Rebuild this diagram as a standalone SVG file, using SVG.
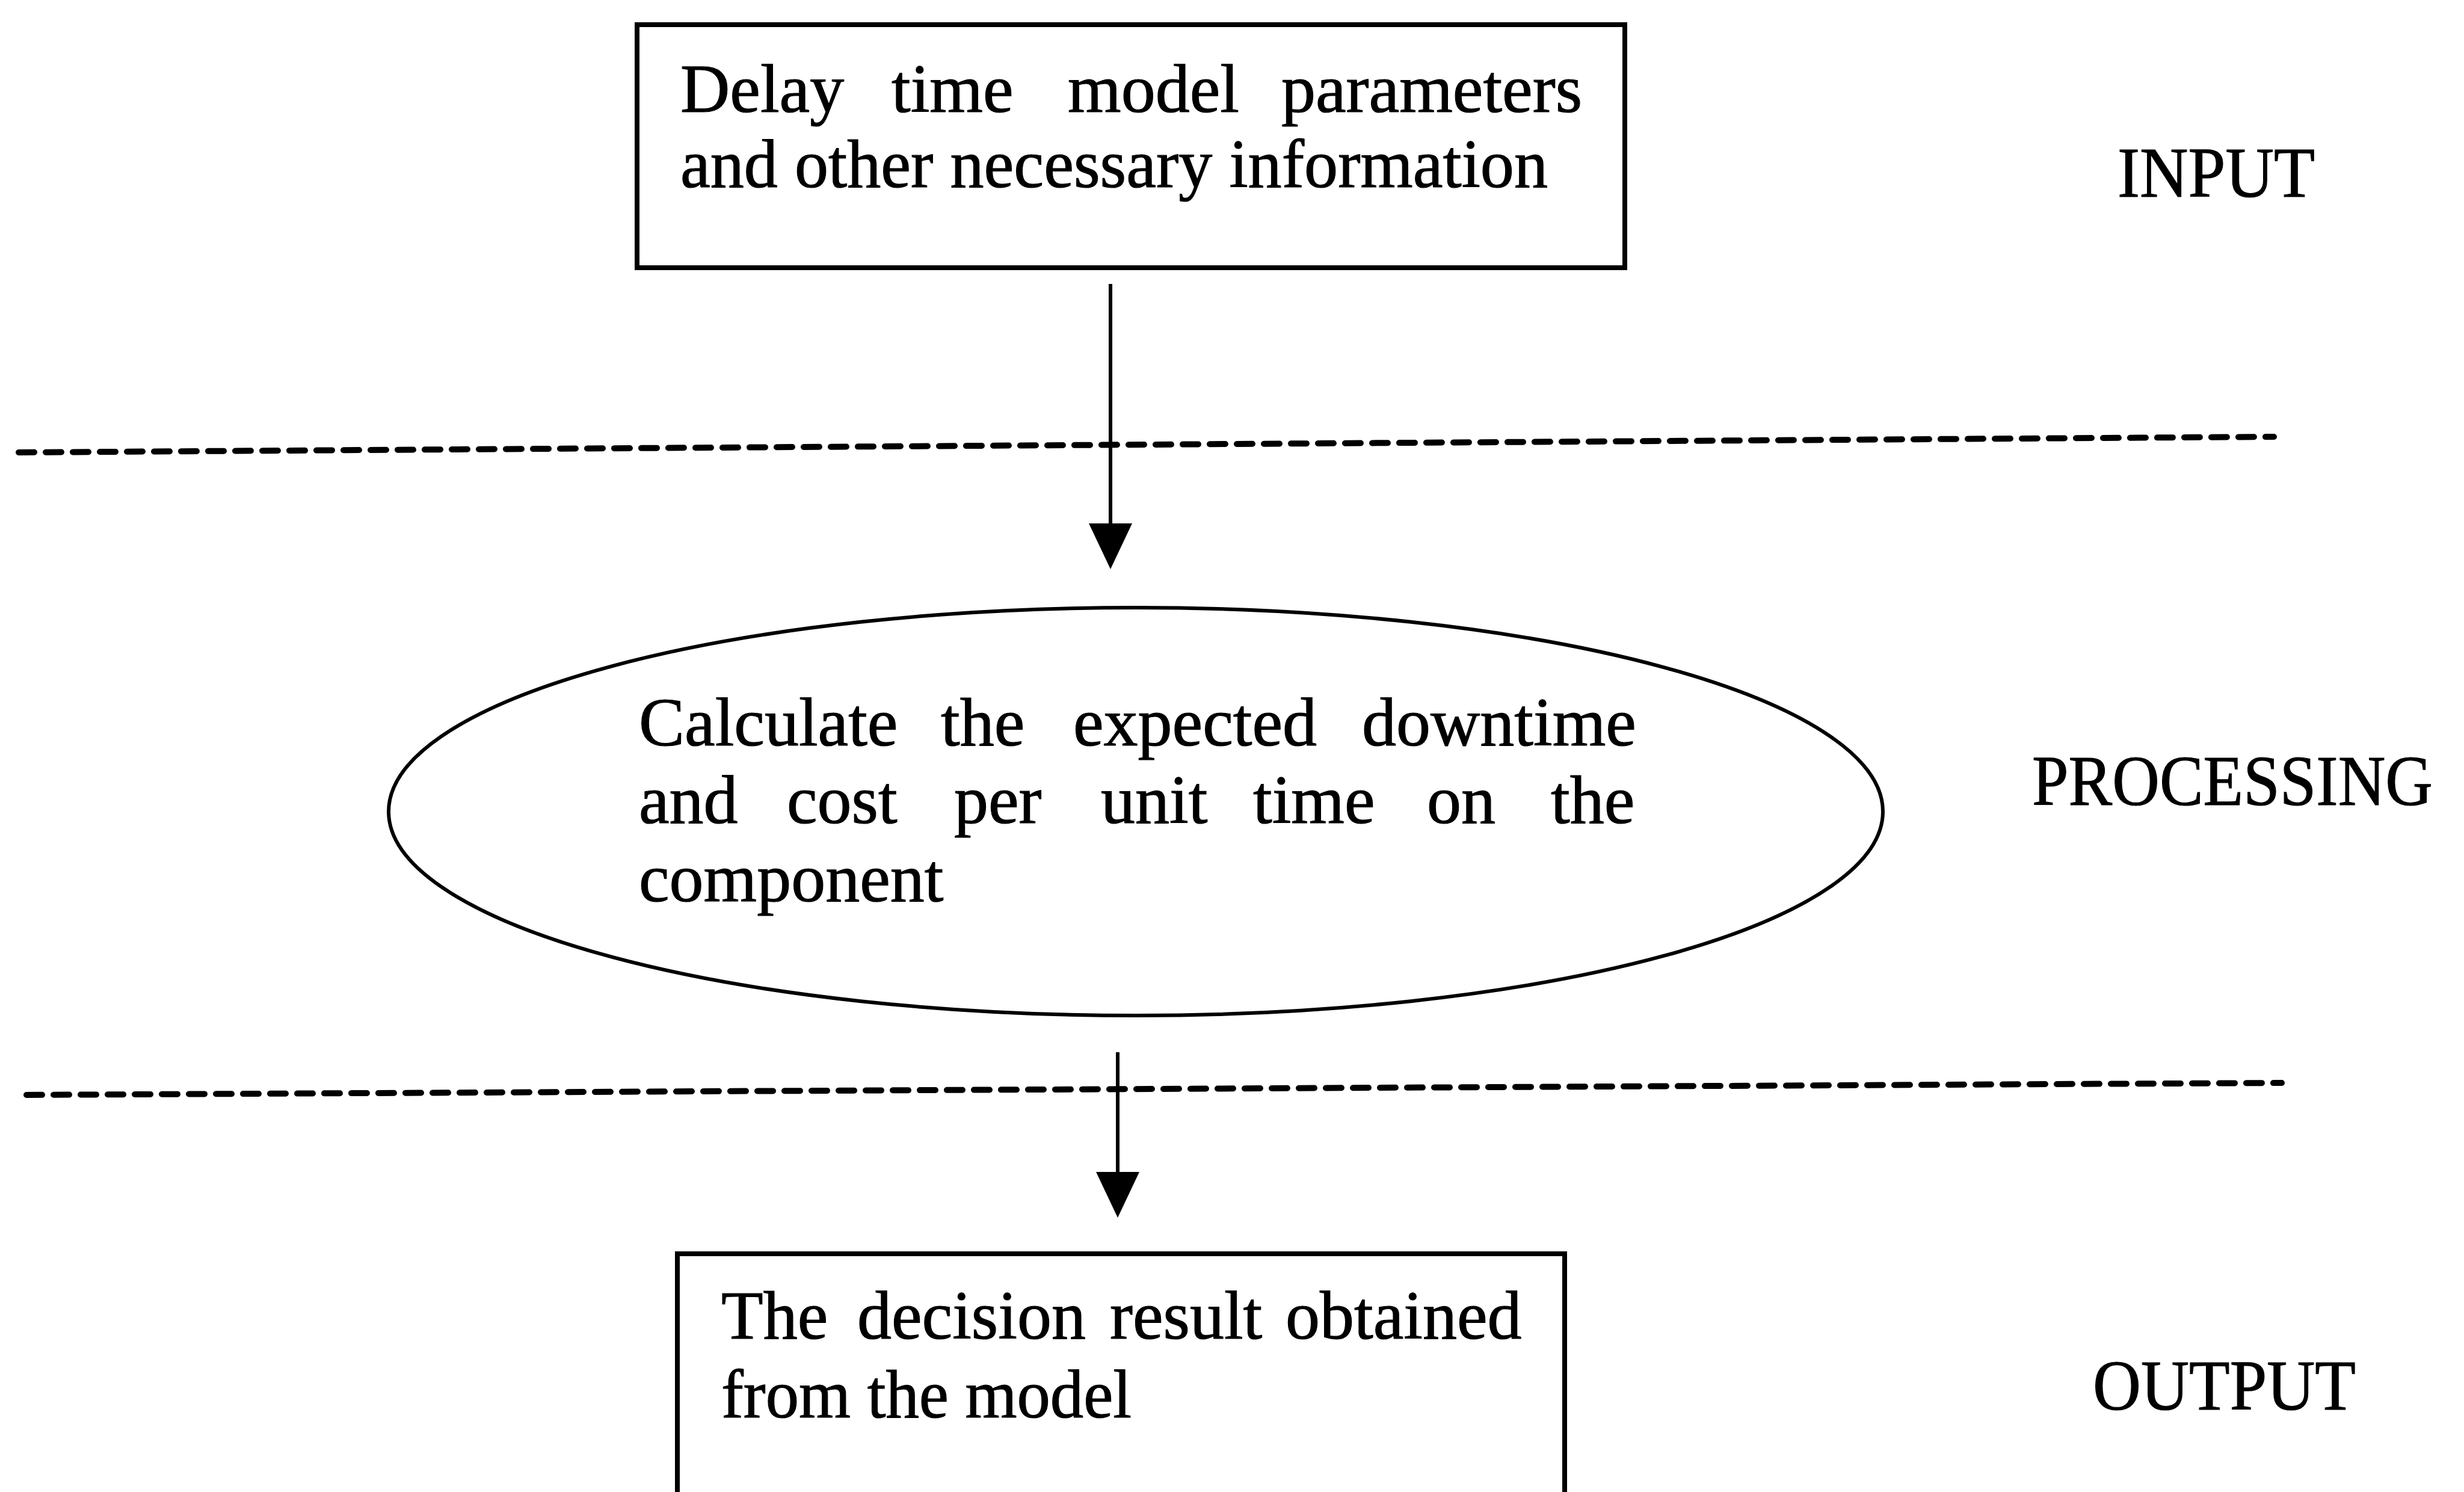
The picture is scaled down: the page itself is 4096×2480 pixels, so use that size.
<svg xmlns="http://www.w3.org/2000/svg" width="4096" height="2480" viewBox="0 0 4096 2480">
<defs>
<style>
.t{font-family:"Liberation Serif","Times New Roman",serif;font-size:114px;fill:#000;stroke:#000;stroke-width:1.2}
.lab{font-family:"Liberation Serif","Times New Roman",serif;font-size:118px;fill:#000;stroke:#000;stroke-width:1.2}
.box{fill:#fff;stroke:#000;stroke-width:8}
.ell{fill:#fff;stroke:#000;stroke-width:6}
.dash{stroke:#000;stroke-width:10;stroke-dasharray:26 19;stroke-linecap:round;fill:none}
.arr{stroke:#000;stroke-width:6;fill:none;marker-end:url(#ah)}
</style>
<marker id="ah" markerUnits="userSpaceOnUse" markerWidth="80" markerHeight="80" refX="44" refY="36" orient="auto" viewBox="0 0 80 80">
<path d="M0,0 L76,36 L0,72 z" fill="#000"/>
</marker>
</defs>
<rect width="4096" height="2480" fill="#fff"/>
<g id="separators">
<line class="dash" x1="31" y1="752" x2="3780" y2="726"/>
<line class="dash" x1="44" y1="1820" x2="3793" y2="1800"/>
</g>
<g id="connectors">
<line class="arr" x1="1846" y1="472" x2="1846" y2="914"/>
<line class="arr" x1="1858" y1="1749" x2="1858" y2="1992"/>
</g>
<g id="node-input">
<rect class="box" x="1059" y="41" width="1642" height="404"/>
<text class="t" y="186"><tspan x="1131">Delay</tspan><tspan x="1482">time</tspan><tspan x="1775">model</tspan><tspan x="2130">parameters</tspan></text>
<text class="t" x="1131" y="311" textLength="1442" lengthAdjust="spacingAndGlyphs">and other necessary information</text>
</g>
<g id="node-processing">
<ellipse class="ell" cx="1888" cy="1349" rx="1242" ry="339"/>
<text class="t" y="1239"><tspan x="1062">Calculate</tspan><tspan x="1564">the</tspan><tspan x="1784">expected</tspan><tspan x="2264">downtime</tspan></text>
<text class="t" y="1368"><tspan x="1062">and</tspan><tspan x="1308">cost</tspan><tspan x="1586">per</tspan><tspan x="1830">unit</tspan><tspan x="2083">time</tspan><tspan x="2372">on</tspan><tspan x="2578">the</tspan></text>
<text class="t" x="1062" y="1498">component</text>
</g>
<g id="node-output">
<rect class="box" x="1126" y="2084" width="1475" height="450"/>
<text class="t" y="2225"><tspan x="1199">The</tspan><tspan x="1425">decision</tspan><tspan x="1845">result</tspan><tspan x="2137">obtained</tspan></text>
<text class="t" x="1199" y="2356" textLength="682" lengthAdjust="spacingAndGlyphs">from the model</text>
</g>
<g id="labels">
<text class="lab" x="3520" y="327" textLength="328" lengthAdjust="spacingAndGlyphs">INPUT</text>
<text class="lab" x="3378" y="1338" textLength="666" lengthAdjust="spacingAndGlyphs">PROCESSING</text>
<text class="lab" x="3479" y="2343" textLength="437" lengthAdjust="spacingAndGlyphs">OUTPUT</text>
</g>
</svg>
